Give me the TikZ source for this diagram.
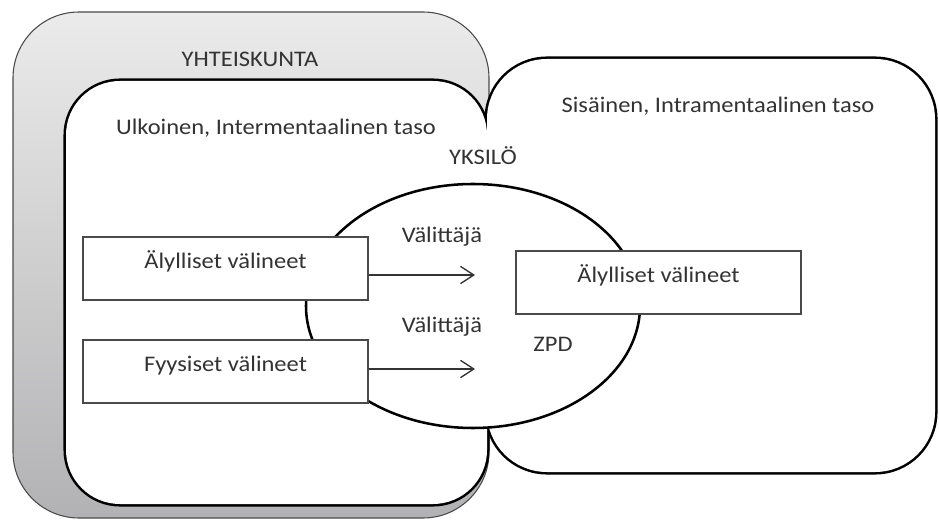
\documentclass[tikz,border=0pt]{standalone}
\usepackage{fontspec}
\setmainfont{Carlito}[FakeStretch=1.1]
\usetikzlibrary{arrows.meta,shapes.geometric}
\definecolor{ink}{HTML}{333333}
\definecolor{frame}{HTML}{4A4A4A}
\definecolor{greytop}{HTML}{EBEBEB}
\definecolor{greybot}{HTML}{B2B2B4}
\newcommand{\lblfont}{\fontsize{16.7pt}{20pt}\selectfont}

\begin{document}
\begin{tikzpicture}[x=0.75pt,y=-0.75pt,
  soc/.style={draw=frame,line width=0.8pt,rounded corners=49.5pt,top color=greytop,bottom color=greybot,
    minimum width=357pt,minimum height=379.5pt,inner sep=0pt,outer sep=0pt},
  lvl/.style={draw=black,line width=3.8pt,fill=white,inner sep=0pt,outer sep=0pt},
  zone/.style={ellipse,draw=black,line width=1.9pt,fill=white,minimum width=250.5pt,minimum height=183pt,inner sep=0pt},
  tool/.style={draw=frame,line width=0.9pt,fill=white,minimum width=213.75pt,minimum height=47.25pt,
    text=ink,font=\lblfont,text height=0.8em,text depth=0.8em},
  lbl/.style={text=ink,font=\lblfont,anchor=base,inner sep=0pt},
  arr/.style={draw=ink,line width=1pt,-{Straight Barb[length=10pt,width=13pt,line width=1pt]}}
]
  \useasboundingbox (0,0) rectangle (939,520);
  \node[soc] (soc) at (251,265) {};
  \node[lvl,rounded corners=40.5pt,minimum width=315.75pt,minimum height=317.25pt] (ext) at (276.5,292.5) {};
  \node[lvl,rounded corners=45pt,minimum width=336pt,minimum height=309.75pt] (int) at (711,265.5) {};
  \fill[white,rounded corners=40.5pt] (ext.south west) rectangle (ext.north east);
  \fill[white,rounded corners=45pt] (int.south west) rectangle (int.north east);
  \node[zone] (zpd) at (473,306) {};
  \node[tool] (aly) at (225.5,268.5) {Älylliset välineet};
  \node[tool] (fyy) at (225.5,371.5) {Fyysiset välineet};
  \node[tool] (sis) at (658.5,282.5) {Älylliset välineet};
  \coordinate (t1) at (475,275);
  \coordinate (t2) at (475,369);
  \draw[arr] (aly.east |- t1) -- (t1);
  \draw[arr] (fyy.east |- t2) -- (t2);
  \node[lbl] (yht) at (250,67) {YHTEISKUNTA};
  \node[lbl] (ulk) at (276,135) {Ulkoinen, Intermentaalinen taso};
  \node[lbl] (int-t) at (718,113) {Sisäinen, Intramentaalinen taso};
  \node[lbl] (yks) at (483,165) {YKSILÖ};
  \node[lbl] (val1) at (442,243) {Välittäjä};
  \node[lbl] (val2) at (442,333) {Välittäjä};
  \node[lbl] (zpd-t) at (553,351) {ZPD};
\end{tikzpicture}
\end{document}
